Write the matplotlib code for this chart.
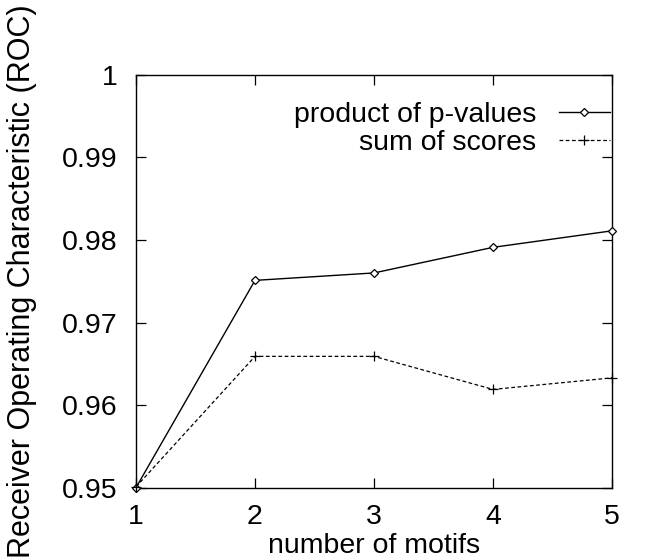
import matplotlib.pyplot as plt

plt.rcParams['font.family'] = ['Liberation Sans', 'DejaVu Sans']

# data
num_motifs = [1, 2, 3, 4, 5]
product_pvalues = [0.9500, 0.9751, 0.9760, 0.9791, 0.9811]
sum_scores = [0.9501, 0.9659, 0.9659, 0.9619, 0.9633]
y_ticks = [0.95, 0.96, 0.97, 0.98, 0.99, 1.0]
y_tick_labels = ['0.95', '0.96', '0.97', '0.98', '0.99', '1']

fs = 20.5

fig = plt.figure(figsize=(6.46, 5.6), dpi=100)
ax = fig.add_axes([0.2105, 0.1291, 0.7369, 0.7375])

ax.plot(num_motifs, product_pvalues, color='black', linewidth=1.0,
        marker='D', markersize=4.5, markerfacecolor='white', markeredgewidth=0.9,
        clip_on=False, zorder=3, label='product of p-values')
ax.plot(num_motifs, sum_scores, color='black', linewidth=0.9, linestyle=(0, (3, 2)),
        marker='+', markersize=7, markeredgewidth=0.9,
        clip_on=False, zorder=3, label='sum of scores')

ax.set_xlim(1, 5)
ax.set_ylim(0.95, 1.0)
ax.set_xticks(num_motifs)
ax.set_yticks(y_ticks)
ax.set_yticklabels(y_tick_labels)

ax.tick_params(direction='in', length=7, width=0.9, top=True, right=True,
               labelsize=fs)
ax.tick_params(axis='x', pad=12)
ax.tick_params(axis='y', pad=13)
for s in ax.spines.values():
    s.set_linewidth(1.0)

ax.set_xlabel('number of motifs', fontsize=fs, labelpad=2)
ax.set_ylabel('Receiver Operating Characteristic (ROC)', fontsize=22, labelpad=18)

ax.legend(loc='upper right', bbox_to_anchor=(0.996, 0.935), frameon=False,
          markerfirst=False, fontsize=fs, handlelength=1.8, handletextpad=0.8,
          labelspacing=0.1, borderpad=0, borderaxespad=0, numpoints=1)

fig.savefig('out.png', dpi=100)
